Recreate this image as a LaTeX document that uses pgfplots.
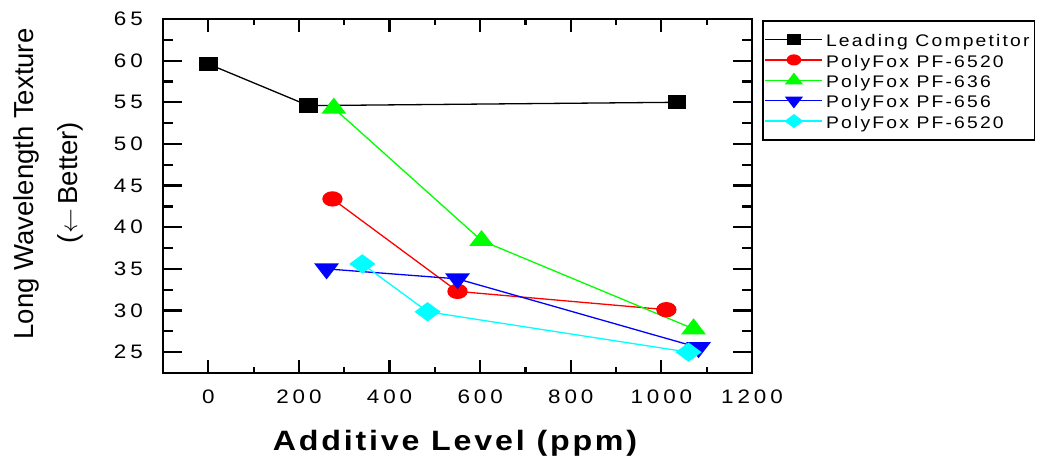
\documentclass[border=0pt]{standalone}
\usepackage{pgfplots}
\pgfplotsset{compat=1.18}
\usepackage{fontspec}
\setmainfont{Liberation Sans}
\newfontfamily\tickfont[FakeStretch=1.15,LetterSpace=20]{Liberation Sans}
\newfontfamily\legfont[FakeStretch=1.15,LetterSpace=13]{Liberation Sans}
\newfontfamily\xlabfont[FakeStretch=1.15,LetterSpace=10]{Liberation Sans}
\definecolor{pgreen}{RGB}{0,255,0}
\definecolor{pcyan}{RGB}{0,255,255}
\definecolor{pblue}{RGB}{0,0,255}
\definecolor{pred}{RGB}{255,0,0}
\begin{document}
\begin{tikzpicture}
\useasboundingbox (0,0) rectangle (1042bp,459bp);
\begin{axis}[
  at={(163bp,86bp)}, anchor=south west,
  scale only axis, width=589bp, height=354bp,
  xmin=-100, xmax=1200, ymin=22.5, ymax=65,
  xtick={0,200,...,1200}, ytick={25,30,...,65},
  minor x tick num=1, minor y tick num=1,
  tick align=inside, tick pos=both,
  axis line style={line width=2.7bp},
  every tick/.style={line width=2.2bp, black},
  xtick style={/pgfplots/major tick length=12.7bp},
  minor x tick style={/pgfplots/minor tick length=6.5bp},
  ytick style={/pgfplots/major tick length=19bp},
  minor y tick style={/pgfplots/minor tick length=10bp},
  /pgf/number format/assume math mode=true,
  /pgf/number format/1000 sep={},
  ticklabel style={font=\tickfont\fontsize{19.5bp}{20bp}\selectfont},
  xticklabel style={anchor=north, inner sep=0pt, yshift=-17bp},
  yticklabel style={anchor=east, inner sep=0pt, xshift=-20bp},
  legend style={at={(1.017,0.997)}, anchor=north west, draw=black, line width=1.5bp,
    font=\legfont\fontsize{16.8bp}{18bp}\selectfont,
    inner xsep=2bp, inner ysep=8.5bp, row sep=0pt,
    nodes={inner xsep=3bp, inner ysep=2.45bp, text height=15bp, text depth=0.5bp, anchor=west}},
  legend cell align=left,
  legend image code/.code={\draw[mark repeat=2,mark phase=2,#1]
     plot coordinates {(0bp,0bp) (28.5bp,0bp) (57bp,0bp)};},
  legend image post style={every mark/.append style={scale=0.7}},
]
\addplot[black, line width=1.3bp, mark=square*, mark size=6.5bp, mark options={xscale=1.33}]
  coordinates {(0,59.6) (221,54.6) (1034,55.0)};
\addlegendentry{Leading Competitor}
\addplot[pred, line width=1.3bp, mark=*, mark size=7bp, mark options={xscale=1.36}]
  coordinates {(274,43.4) (550,32.3) (1011,30.1)};
\addlegendentry{PolyFox PF-6520}
\addplot[pgreen, line width=1.3bp, mark=triangle*, mark size=9.5bp, mark options={xscale=1.34}]
  coordinates {(277,54.3) (603,38.4) (1071,27.8)};
\addlegendentry{PolyFox PF-636}
\addplot[pblue, line width=1.3bp, mark=triangle*, mark size=9.5bp, mark options={rotate=180, xscale=1.34}]
  coordinates {(261,35.0) (550,33.8) (1082,25.55)};
\addlegendentry{PolyFox PF-656}
\addplot[pcyan, line width=1.3bp, mark=diamond*, mark size=8.85bp, mark options={xscale=1.8}]
  coordinates {(340,35.6) (484,29.85) (1060,25.0)};
\addlegendentry{PolyFox PF-6520}
\end{axis}
\node[rotate=90, anchor=base, font=\fontsize{27.5bp}{30bp}\selectfont, inner sep=0pt]
  at (33bp,275bp) {Long Wavelength Texture};
\node[rotate=90, anchor=base, font=\fontsize{27.5bp}{30bp}\selectfont, inner sep=0pt]
  at (77bp,276.5bp) {($\leftarrow$\,Better)};
\node[anchor=base, font=\xlabfont\bfseries\fontsize{28bp}{30bp}\selectfont, inner sep=0pt]
  at (455bp,9bp) {Additive Level (ppm)};
\end{tikzpicture}
\end{document}
